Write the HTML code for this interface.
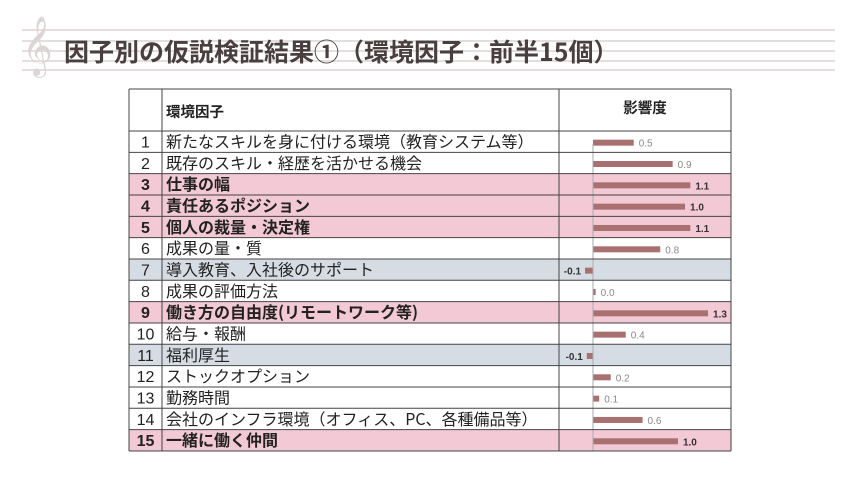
<!DOCTYPE html>
<html><head><meta charset="utf-8"><style>
body{margin:0;width:860px;height:483px;background:#fff;position:relative;overflow:hidden;font-family:"Liberation Sans","Noto Sans CJK JP",sans-serif}
.staff{position:absolute;left:22px;width:813px;height:2px;background:#e4dede}
.clef{position:absolute;left:22px;top:20px;font-size:52px;color:#ddd5d5;font-family:"DejaVu Sans",serif;line-height:1}
.title{position:absolute;left:64px;top:33px;font-size:25px;font-weight:bold;color:#4a3f3f;font-family:"Noto Sans CJK JP",sans-serif;white-space:nowrap}
</style></head><body>
<div class="staff" style="top:29px"></div>
<div class="staff" style="top:40px"></div>
<div class="staff" style="top:50px"></div>
<div class="staff" style="top:60px"></div>
<div class="staff" style="top:69px"></div>
<div class="clef">𝄞</div>
<div class="title">因子別の仮説検証結果①（環境因子：前半15個）</div>
<svg width="860" height="483" style="position:absolute;left:0;top:0" id="s"></svg>
<script>
const rows=[["1","新たなスキルを身に付ける環境（教育システム等）",0.46,"0.5",0],
["2","既存のスキル・経歴を活かせる機会",0.9,"0.9",0],
["3","仕事の幅",1.1,"1.1",1],
["4","責任あるポジション",1.04,"1.0",1],
["5","個人の裁量・決定権",1.1,"1.1",1],
["6","成果の量・質",0.76,"0.8",0],
["7","導入教育、入社後のサポート",-0.09,"-0.1",2],
["8","成果の評価方法",0.03,"0.0",0],
["9","働き方の自由度(リモートワーク等)",1.3,"1.3",1],
["10","給与・報酬",0.37,"0.4",0],
["11","福利厚生",-0.07,"-0.1",2],
["12","ストックオプション",0.2,"0.2",0],
["13","勤務時間",0.07,"0.1",0],
["14","会社のインフラ環境（オフィス、PC、各種備品等）",0.56,"0.6",0],
["15","一緒に働く仲間",0.96,"1.0",1]];
let h='';
const L=129,C1=162,C2=559,R=731,top0=131,rh=21.33,z=593,sc=88.5;
rows.forEach((r,i)=>{const y=top0+i*rh;
const bg=r[4]==1?'#f2c9d5':r[4]==2?'#d6dce4':'#fff';
h+=`<rect x="${L}" y="${y}" width="${R-L}" height="${rh}" fill="${bg}"/>`;
const bold=r[4]==1?'bold':'normal';
h+=`<text x="${(L+C1)/2}" y="${y+16.5}" font-size="16" text-anchor="middle" font-weight="${bold}" font-family="Liberation Sans,Noto Sans CJK JP,sans-serif" fill="#222">${r[0]}</text>`;
h+=`<text x="166" y="${y+16.5}" font-size="16" font-weight="${bold}" font-family="Noto Sans CJK JP,sans-serif" fill="#222">${r[1]}</text>`;
const w=r[2]*sc, by=y+rh/2-2;
if(w>=0){h+=`<rect x="${z}" y="${by}" width="${Math.max(w,2)}" height="6" fill="#a8706f"/>`;
h+=`<text x="${z+w+5}" y="${by+7}" font-size="10" font-weight="${bold}" fill="${r[4]==1?'#333':'#888'}" font-family="Liberation Sans,sans-serif">${r[3]}</text>`;}
else{h+=`<rect x="${z+w}" y="${by}" width="${-w}" height="6" fill="#a8706f"/>`;
h+=`<text x="${z+w-4}" y="${by+7}" font-size="10" font-weight="bold" text-anchor="end" fill="#333" font-family="Liberation Sans,sans-serif">${r[3]}</text>`;}
});
h+=`<line x1="${z}" y1="144" x2="${z}" y2="451" stroke="#aaa" stroke-width="1"/>`;
for(let i=0;i<=15;i++){const y=top0+i*rh;h+=`<line x1="${L}" y1="${y}" x2="${R}" y2="${y}" stroke="#444" stroke-width="1"/>`;}
h+=`<line x1="${L}" y1="89" x2="${R}" y2="89" stroke="#444"/>`;
[L,C1,C2,R].forEach(x=>h+=`<line x1="${x}" y1="89" x2="${x}" y2="451" stroke="#444"/>`);
h+=`<text x="166" y="117" font-size="14.5" font-weight="bold" font-family="Noto Sans CJK JP,sans-serif" fill="#222">環境因子</text>`;
h+=`<text x="645" y="113" font-size="14.5" font-weight="bold" text-anchor="middle" font-family="Noto Sans CJK JP,sans-serif" fill="#222">影響度</text>`;
document.getElementById('s').innerHTML=h;
</script>
</body></html>
